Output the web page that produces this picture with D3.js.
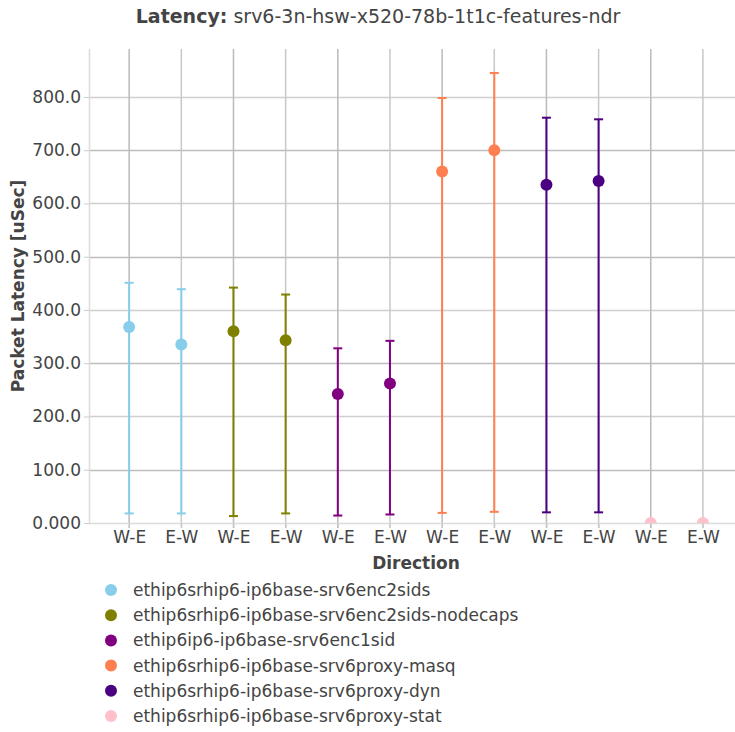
<!DOCTYPE html>
<html><head><meta charset="utf-8">
<script src="https://cdn.jsdelivr.net/npm/d3@7"></script>
<style>body{margin:0;background:#fff}svg{display:block}</style>
</head><body>
<script>
const categories = ["W-E","E-W","W-E","E-W","W-E","E-W","W-E","E-W","W-E","E-W","W-E","E-W"];
const seriesNames = [
  "ethip6srhip6-ip6base-srv6enc2sids",
  "ethip6srhip6-ip6base-srv6enc2sids-nodecaps",
  "ethip6ip6-ip6base-srv6enc1sid",
  "ethip6srhip6-ip6base-srv6proxy-masq",
  "ethip6srhip6-ip6base-srv6proxy-dyn",
  "ethip6srhip6-ip6base-srv6proxy-stat"
];
const seriesColors = ["#87CEEB","#808000","#800080","#FF7F50","#4B0082","#FFC0CB"];
// [W-E, E-W] per series
const avgValues = [[368,335],[360,343],[242,262],[660,700],[635,642],[0,0]];
const minValues = [[18,18],[13,18],[14,16],[19,21],[20,20],[0,0]];
const maxValues = [[451,439],[442,429],[328,342],[798,845],[761,758],[0,0]];
const yTicks = [0,100,200,300,400,500,600,700,800];

(function(){
const W = 735, H = 732;
const pL = 89, pR = 729, pT = 49, pB = 523;
const font = "'DejaVu Sans', sans-serif";
const svg = d3.select("body").append("svg").attr("width", W).attr("height", H);

const x = d3.scaleLinear().domain([-0.77, 11.5]).range([pL, pR]);
const y = d3.scaleLinear().domain([0, 890]).range([pB, pT]);

const grid = svg.append("g");
grid.selectAll("line.h").data(yTicks.slice(1)).join("line")
  .attr("x1", pL).attr("x2", W).attr("y1", d => Math.round(y(d))+0.5).attr("y2", d => Math.round(y(d))+0.5)
  .attr("stroke", (d,i) => i%2 ? "#cfcfcf" : "#bdbdbd").attr("stroke-width", 1.5);
grid.selectAll("line.v").data(categories.map((c,i)=>i)).join("line")
  .attr("x1", d => x(d)).attr("x2", d => x(d)).attr("y1", pT).attr("y2", pB + 5)
  .attr("stroke", (d,i) => i%2 ? "#c8c8c8" : "#bababa").attr("stroke-width", 1.5);
grid.append("line").attr("x1", pL).attr("x2", W).attr("y1", pB+0.5).attr("y2", pB+0.5).attr("stroke", "#dcdcdc").attr("stroke-width", 1.5);
grid.append("line").attr("x1", pL+0.5).attr("x2", pL+0.5).attr("y1", pT).attr("y2", pB).attr("stroke", "#dcdcdc").attr("stroke-width", 1.5);

const yAxis = d3.axisLeft(y).tickValues(yTicks).tickSize(5).tickPadding(3)
  .tickFormat(d => d === 0 ? "0.000" : d3.format(".1f")(d));
const ya = svg.append("g").attr("transform", `translate(${pL},0)`).call(yAxis);
ya.select(".domain").remove();
ya.selectAll(".tick line").attr("stroke", "#cccccc");
ya.selectAll(".tick text").attr("fill", "#444").style("font-family", font).style("font-size", "17px");

const xa = svg.append("g").attr("transform", `translate(0,${pB})`)
  .call(d3.axisBottom(x).tickValues(categories.map((c,i)=>i)).tickFormat(i => categories[i]).tickSize(5).tickPadding(3));
xa.select(".domain").remove();
xa.selectAll(".tick line").attr("stroke", "#cccccc");
xa.selectAll(".tick text").attr("fill", "#444").style("font-family", font).style("font-size", "17px");

svg.append("clipPath").attr("id","clip").append("rect")
  .attr("x", pL).attr("y", pT).attr("width", W-pL).attr("height", pB-pT);
const plot = svg.append("g").attr("clip-path", "url(#clip)");
seriesNames.forEach((name, s) => {
  const g = plot.append("g");
  [0,1].forEach(k => {
    const idx = s*2 + k;
    const cx = x(idx), col = seriesColors[s];
    if (maxValues[s][k] > 0) {
      g.append("line").attr("x1", cx).attr("x2", cx).attr("y1", y(minValues[s][k])).attr("y2", y(maxValues[s][k]))
        .attr("stroke", col).attr("stroke-width", 2);
      [minValues[s][k], maxValues[s][k]].forEach(v => {
        g.append("line").attr("x1", cx-4.5).attr("x2", cx+4.5).attr("y1", y(v)).attr("y2", y(v))
          .attr("stroke", col).attr("stroke-width", 2);
      });
    }
    g.append("circle").attr("cx", cx).attr("cy", y(avgValues[s][k])).attr("r", 6).attr("fill", col);
  });
});

svg.append("text").attr("x", 378).attr("y", 23).attr("text-anchor", "middle")
  .style("font-family", font).style("font-size", "19px").attr("fill", "#444")
  .call(t => { t.append("tspan").attr("font-weight", "bold").text("Latency:");
               t.append("tspan").text(" srv6-3n-hsw-x520-78b-1t1c-features-ndr"); });
svg.append("text").attr("x", 416).attr("y", 569).attr("text-anchor", "middle")
  .style("font-family", font).style("font-size", "17px").attr("font-weight", "bold").attr("fill", "#444").text("Direction");
svg.append("text").attr("transform", `translate(24,${(pT+pB)/2}) rotate(-90)`).attr("text-anchor", "middle")
  .style("font-family", font).style("font-size", "17px").attr("font-weight", "bold").attr("fill", "#444").text("Packet Latency [uSec]");

const lg = svg.append("g");
seriesNames.forEach((name, s) => {
  const ly = 590 + s*25.2;
  lg.append("circle").attr("cx", 111).attr("cy", ly).attr("r", 6).attr("fill", seriesColors[s]);
  lg.append("text").attr("x", 133).attr("y", ly + 6).style("font-family", font).style("font-size", "17px")
    .attr("fill", "#444").text(name);
});
})();
</script>
</body></html>
